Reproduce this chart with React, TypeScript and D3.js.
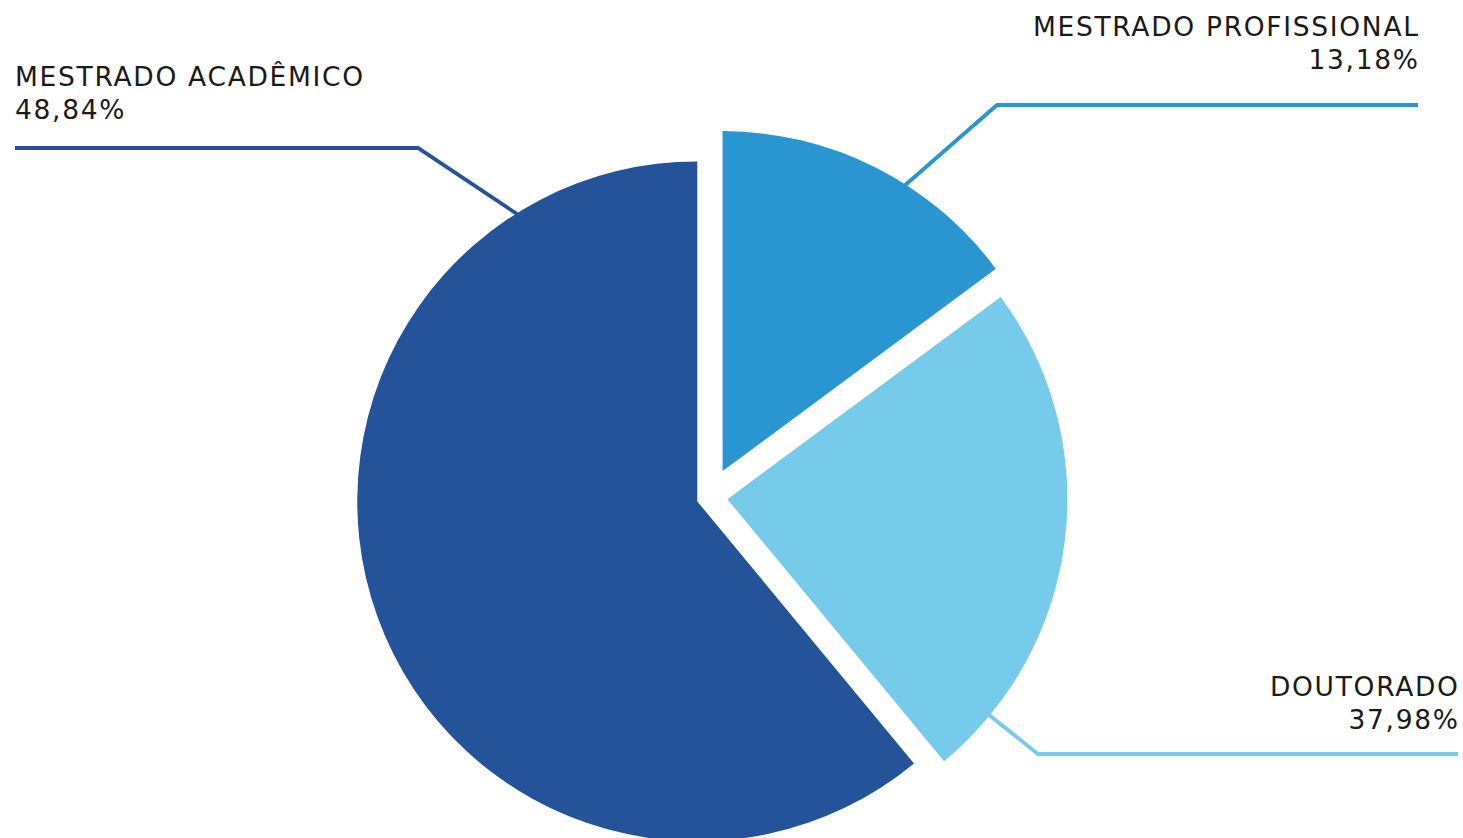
import React from "react";
import * as d3 from "d3";

// Categories in drawing order (clockwise from 12 o'clock)
const categories = ["MESTRADO PROFISSIONAL", "DOUTORADO", "MESTRADO ACADÊMICO"];
// Percent labels as printed in the chart
const percentLabels = ["13,18%", "37,98%", "48,84%"];
const sliceShares = [14.86, 24.14, 61.0];
const colors = ["#2996d2", "#77cbea", "#25539a"];
// Explode distance of each slice along its bisector
const explode = [29, 18, 13];
// Leader-line anchor angle on the arc (degrees, clockwise from top)
const anchorAngles = [32.5, 129.5, 328];

const W = 1463;
const H = 838;
const cx = 709.5;
const cy = 497;
const R = 340;
const LS = 1.7;

type LabelLayout = { elbow: [number, number]; endX: number; textX: number; anchor: "start" | "end"; baseline1: number };
const labelLayout: LabelLayout[] = [
  { elbow: [997, 105], endX: 1418, textX: 1418, anchor: "end", baseline1: 36 },
  { elbow: [1038, 754], endX: 1458, textX: 1458, anchor: "end", baseline1: 696 },
  { elbow: [418, 148], endX: 15, textX: 15, anchor: "start", baseline1: 86 },
];

export default function App() {
  const pie = d3
    .pie<number>()
    .sort(null)
    .value((d) => d);
  const arcs = pie(sliceShares);
  const arcGen = d3.arc<d3.PieArcDatum<number>>().innerRadius(0).outerRadius(R);

  return (
    <svg
      width={W}
      height={H}
      style={{ position: "absolute", left: 0, top: 0, background: "#fff" }}
      fontFamily="'DejaVu Sans', Verdana, sans-serif"
    >
      {arcs.map((a, i) => {
        const mid = (a.startAngle + a.endAngle) / 2;
        const ox = Math.sin(mid) * explode[i];
        const oy = -Math.cos(mid) * explode[i];
        const sx = cx + ox;
        const sy = cy + oy;
        const ang = (anchorAngles[i] * Math.PI) / 180;
        const ax = sx + Math.sin(ang) * (R - 2);
        const ay = sy - Math.cos(ang) * (R - 2);
        const L = labelLayout[i];
        const linePath = d3.line()([
          [ax, ay],
          L.elbow,
          [L.endX, L.elbow[1]],
        ]);
        const tx = L.anchor === "end" ? L.textX + LS : L.textX;
        return (
          <g key={categories[i]}>
            <path d={linePath || ""} fill="none" stroke={colors[i]} strokeWidth={3.8} />
            <path d={arcGen(a) || ""} transform={`translate(${sx},${sy})`} fill={colors[i]} />
            <text x={tx} y={L.baseline1} textAnchor={L.anchor} fontSize={26.5} letterSpacing={LS} fill="#1a1a1a">
              {categories[i]}
            </text>
            <text x={tx} y={L.baseline1 + 33} textAnchor={L.anchor} fontSize={26.5} letterSpacing={LS} fill="#1a1a1a">
              {percentLabels[i]}
            </text>
          </g>
        );
      })}
    </svg>
  );
}
